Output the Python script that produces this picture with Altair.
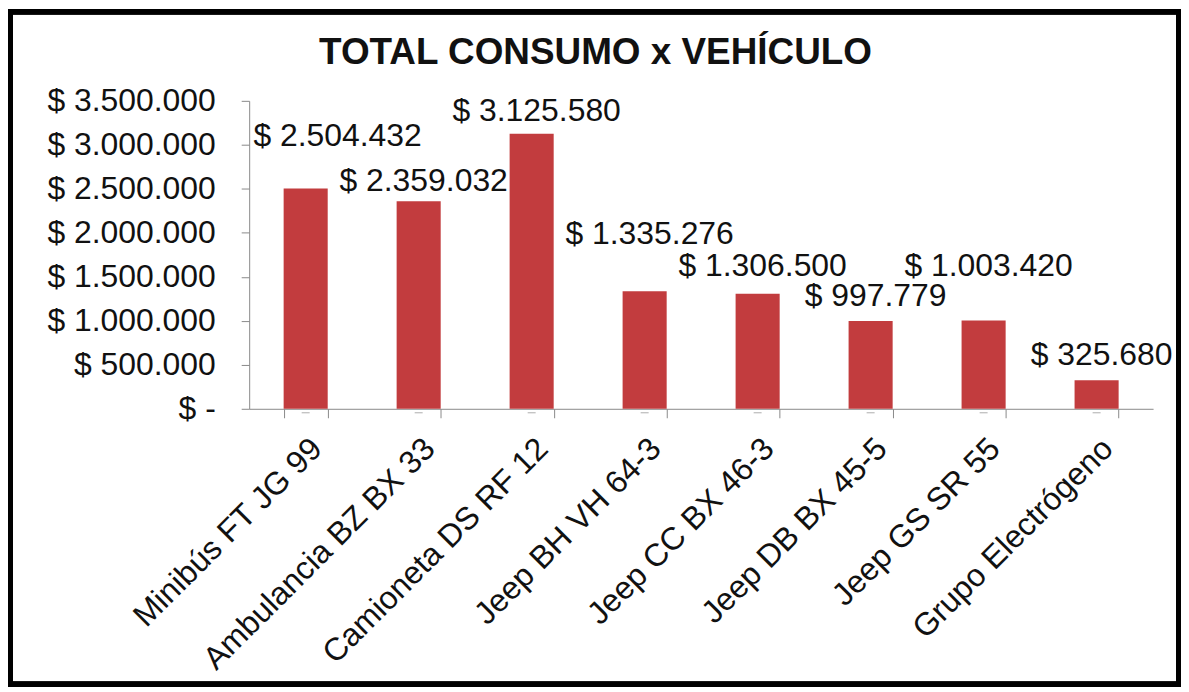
import altair as alt
import pandas as pd

vehiculos = ["Minibús FT JG 99", "Ambulancia BZ BX 33", "Camioneta DS RF 12",
             "Jeep BH VH 64-3", "Jeep CC BX 46-3", "Jeep DB BX 45-5",
             "Jeep GS SR 55", "Grupo Electrógeno"]
consumo = [2504432, 2359032, 3125580, 1335276, 1306500, 997779, 1003420, 325680]
etiquetas = ["$ 2.504.432", "$ 2.359.032", "$ 3.125.580", "$ 1.335.276",
             "$ 1.306.500", "$ 997.779", "$ 1.003.420", "$ 325.680"]
# label anchor heights (in $), as the labels sit in the original
label_at = [3104000, 2583000, 3387000, 1982000, 1620000, 1280000, 1620000, 612000]
y_ticks = [0, 500000, 1000000, 1500000, 2000000, 2500000, 3000000, 3500000]

df = pd.DataFrame({"vehiculo": vehiculos, "consumo": consumo,
                   "etiqueta": etiquetas, "label_at": label_at,
                   "idx": list(range(len(vehiculos)))})

FONT = "Liberation Sans"
TXT = "#111111"
GRAY = "#8a8a8a"

x_enc = alt.X("vehiculo:N", sort=vehiculos,
              scale=alt.Scale(paddingInner=0.61, paddingOuter=0.305),
              axis=alt.Axis(title=None, labelAngle=-45, labelFontSize=32,
                            labelFont=FONT, labelColor=TXT, labelPadding=15,
                            tickBand="extent", tickSize=9, tickColor=GRAY,
                            domainColor=GRAY, labelLimit=400))

y_scale = alt.Scale(domain=[0, 3500000], nice=False)

bars = alt.Chart(df).mark_bar(color="#C23C3E").encode(
    x=x_enc,
    y=alt.Y("consumo:Q", scale=y_scale,
            axis=alt.Axis(title=None, values=y_ticks, grid=False,
                          labelExpr="datum.value == 0 ? '$ -\u00a0\u00a0\u00a0\u00a0\u00a0' : '$ ' + replace(format(datum.value, ','), regexp(',', 'g'), '.')",
                          labelFontSize=32, labelFont=FONT, labelColor=TXT,
                          labelPadding=26, tickSize=8, tickColor=GRAY,
                          domainColor=GRAY)),
)

center_ticks = alt.Chart(df).mark_tick(color=GRAY, size=8, thickness=1, yOffset=4).encode(
    x=alt.X("vehiculo:N", sort=vehiculos),
    y=alt.datum(0, scale=y_scale),
)

labels_rest = alt.Chart(df).transform_filter("datum.idx > 0").mark_text(
    fontSize=32, font=FONT, color=TXT, dx=5, baseline="middle", align="center"
).encode(
    x=alt.X("vehiculo:N", sort=vehiculos),
    y=alt.Y("label_at:Q", scale=y_scale),
    text="etiqueta:N",
)

label_first = alt.Chart(df).transform_filter("datum.idx == 0").mark_text(
    fontSize=32, font=FONT, color=TXT, dx=32, baseline="middle", align="center"
).encode(
    x=alt.X("vehiculo:N", sort=vehiculos),
    y=alt.Y("label_at:Q", scale=y_scale),
    text="etiqueta:N",
)

frame = alt.Chart(df).mark_rect(fill=None, stroke="#000000", strokeWidth=5).encode(
    x=alt.value(-239.5), x2=alt.value(932.5), y=alt.value(-89.5), y2=alt.value(585.5)
)

chart = alt.layer(bars, center_ticks, labels_rest, label_first, frame).properties(
    width=907, height=309,
    title=alt.TitleParams("TOTAL CONSUMO x VEHÍCULO", fontSize=37, font=FONT,
                          fontWeight="bold", color=TXT, dx=-106, offset=-92,
                          baseline="alphabetic"),
    autosize=alt.AutoSizeParams(type="none"),
    padding={"left": 242, "top": 92, "right": 28, "bottom": 279},
).configure(background="white").configure_view(stroke=None)

chart.save("out.html", embed_options={"renderer": "svg", "actions": False})
